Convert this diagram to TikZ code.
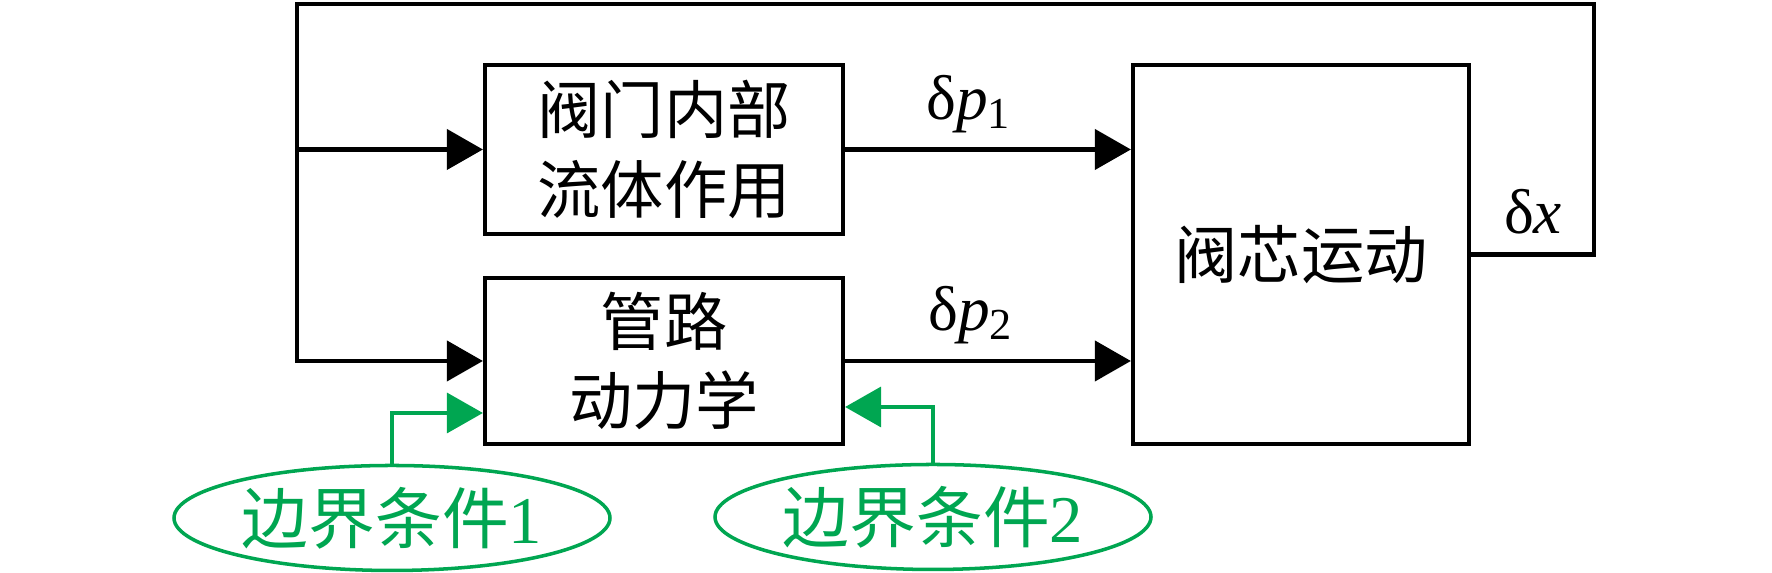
\documentclass[tikz,border=0pt]{standalone}
\usepackage{fontspec}
\setmainfont{Liberation Serif}
\newfontfamily\cjk{Noto Sans CJK SC}
\usetikzlibrary{arrows.meta,shapes.geometric}
\definecolor{bcgreen}{RGB}{0,166,81}
\tikzset{
  block/.style={draw, line width=1.2pt, inner sep=0pt, align=center,
    font=\cjk\fontsize{18}{22.5}\selectfont},
  cond/.style={draw=bcgreen, ellipse, line width=1pt, inner sep=0pt,
    minimum width=4.36cm, minimum height=1.05cm, text=bcgreen,
    font=\fontsize{19}{22}\selectfont},
  sig/.style={inner sep=0pt, font=\fontsize{18}{22}\selectfont},
  arr/.style={line width=1.2pt, -{Triangle[length=3.6mm,width=4mm]}},
  garr/.style={draw=bcgreen, line width=1pt,
    -{Triangle[length=3.6mm,width=4mm,fill=bcgreen]}}
}
\begin{document}
\begin{tikzpicture}
      \useasboundingbox (0,0) rectangle (17.72,5.73);
      \draw
        (6.64,4.235) node[block, minimum width=3.58cm, minimum height=1.69cm] (flow){阀门内部\\流体作用}
        (6.64,2.12) node[block, minimum width=3.58cm, minimum height=1.66cm] (pipe){管路\\动力学}
        (13.01,3.185) node[block, minimum width=3.36cm, minimum height=3.79cm] (valve){阀芯运动}
        (3.92,0.55) node[cond] (bc1){{\cjk 边界条件}1}
        (9.33,0.56) node[cond] (bc2){{\cjk 边界条件}2};
      \node[sig] (dp1) at (9.69,4.69) {δ\textit{p}\textsubscript{1}};
      \node[sig] (dp2) at (9.71,2.58) {δ\textit{p}\textsubscript{2}};
      \node[sig] (dx) at (15.33,3.61) {δ\textit{x}};
      \coordinate (fbr) at (15.94,5.69);
      \coordinate (fbl) at (2.97,5.69);
      \begin{scope}[arr]
        % feedback loop
        \draw (valve.east) -| (fbr) -- (fbl) |- (pipe.west);
        \draw (fbl |- flow.west) -- (flow.west);
        \draw (flow.east) -- (flow.east -| valve.west);
        \draw (pipe.east) -- (pipe.east -| valve.west);
      \end{scope}
      % boundary conditions
      \begin{scope}[garr]
        \draw (bc1.north) |- ([yshift=-5.2mm]pipe.west);
        \draw (bc2.north) |- ([yshift=-4.6mm]pipe.east);
      \end{scope}
    \end{tikzpicture}
\end{document}
